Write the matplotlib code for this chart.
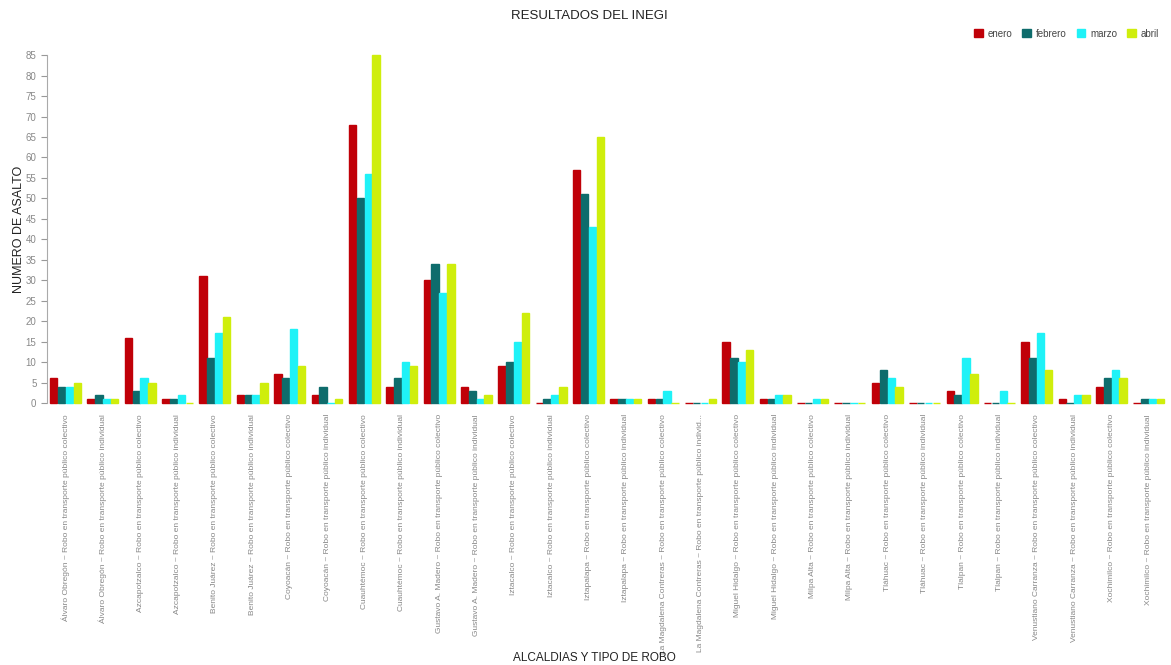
import numpy as np
import matplotlib.pyplot as plt

plt.rcParams['font.family'] = ['Liberation Sans', 'DejaVu Sans']

alcaldias = ['Álvaro Obregón', 'Azcapotzalco', 'Benito Juárez', 'Coyoacán', 'Cuauhtémoc',
             'Gustavo A. Madero', 'Iztacalco', 'Iztapalapa', 'La Magdalena Contreras',
             'Miguel Hidalgo', 'Milpa Alta', 'Tláhuac', 'Tlalpan', 'Venustiano Carranza',
             'Xochimilco']
tipos = ['Robo en transporte público colectivo', 'Robo en transporte público individual']

categorias = []
for a in alcaldias:
    for t in tipos:
        categorias.append(f"{a} ~ {t}")
# label truncated in the original
categorias[17] = 'La Magdalena Contreras ~ Robo en transporte público individ...'

meses = ['enero', 'febrero', 'marzo', 'abril']
colores = ['#c00008', '#0e6c6c', '#1ff2f7', '#cfee0c']

enero = [6, 1, 16, 1, 31, 2, 7, 2, 68, 4, 30, 4, 9, 0, 57, 1, 1, 0, 15, 1, 0, 0, 5, 0, 3, 0, 15, 1, 4, 0]
febrero = [4, 2, 3, 1, 11, 2, 6, 4, 50, 6, 34, 3, 10, 1, 51, 1, 1, 0, 11, 1, 0, 0, 8, 0, 2, 0, 11, 0, 6, 1]
marzo = [4, 1, 6, 2, 17, 2, 18, 0, 56, 10, 27, 1, 15, 2, 43, 1, 3, 0, 10, 2, 1, 0, 6, 0, 11, 3, 17, 2, 8, 1]
abril = [5, 1, 5, 0, 21, 5, 9, 1, 85, 9, 34, 2, 22, 4, 65, 1, 0, 1, 13, 2, 1, 0, 4, 0, 7, 0, 8, 2, 6, 1]
series = [enero, febrero, marzo, abril]

fig = plt.figure(figsize=(11.71, 6.65), dpi=100)
ax = fig.add_axes([0.040, 0.394, 0.957, 0.523])

x = np.arange(len(categorias))
w = 0.21
for i, (vals, mes, col) in enumerate(zip(series, meses, colores)):
    ax.bar(x + (i - 1.5) * w, vals, width=w * 0.95, color=col, label=mes,
           edgecolor=col, linewidth=1.0, clip_on=False)

ax.set_xlim(-0.5, len(categorias) - 0.5)
ax.set_ylim(0, 85)
ax.set_yticks(np.arange(0, 86, 5))
ax.set_xticks(x)
ax.set_xticklabels(categorias, rotation=90, fontsize=6.0, color='#888888')
ax.tick_params(axis='x', length=0, pad=8)
ax.tick_params(axis='y', labelsize=7, colors='#999999', length=4, width=0.8)
for t in ax.get_yticklabels():
    t.set_color('#888888')

for s in ['top', 'right']:
    ax.spines[s].set_visible(False)
ax.spines['left'].set_color('#aaaaaa')
ax.spines['bottom'].set_visible(False)

fig.text(0.016, 0.655, 'NUMERO DE ASALTO', rotation=90, ha='center', va='center',
         fontsize=9, color='#222222')
fig.text(0.508, 0.006, 'ALCALDIAS Y TIPO DE ROBO', ha='center', fontsize=8.5, color='#222222')
fig.text(0.503, 0.972, 'RESULTADOS DEL INEGI', ha='center', fontsize=9.5, color='#222222')

leg = fig.legend(loc='upper right', bbox_to_anchor=(0.997, 0.97), ncol=4, frameon=False,
                 fontsize=7, handlelength=0.9, handleheight=0.9, handletextpad=0.5,
                 columnspacing=1.0)
for t in leg.get_texts():
    t.set_color('#444444')

fig.savefig('out.png', dpi=100, facecolor='white')
